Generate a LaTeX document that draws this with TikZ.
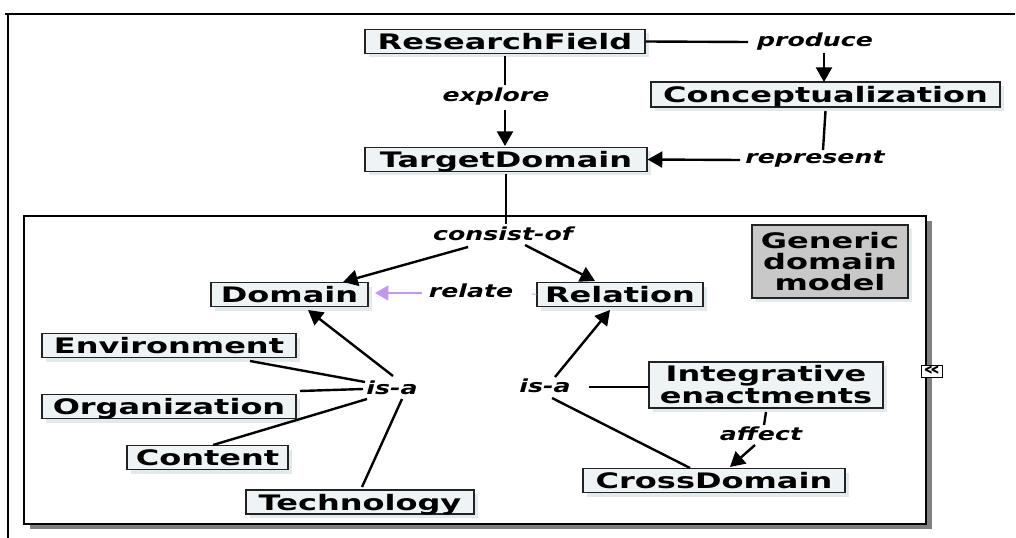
\documentclass[tikz,border=0pt]{standalone}
\usepackage{fontspec}
\usetikzlibrary{arrows.meta,shadows}
\newfontfamily\widesans{DejaVu Sans}[FakeStretch=1.5]
\newfontfamily\labelsans{DejaVu Sans}[FakeStretch=1.4]
\definecolor{boxfill}{RGB}{238,244,246}
\definecolor{boxshade}{RGB}{226,234,238}
\definecolor{boxline}{RGB}{35,35,35}
\definecolor{notefill}{RGB}{200,200,200}
\definecolor{relatecol}{RGB}{192,152,240}
\definecolor{frameshade}{RGB}{128,128,128}
\begin{document}
\begin{tikzpicture}[x=0.75pt,y=-0.75pt,
  conceptbox/.style={draw=boxline, line width=0.9pt, fill=boxfill,
    drop shadow={shadow xshift=3pt, shadow yshift=-3pt, fill=boxshade, opacity=1},
    inner xsep=2pt, inner ysep=0pt, minimum height=18pt,
    font=\widesans\bfseries\fontsize{16}{16.5}\selectfont},
  onelinebox/.style={conceptbox, text height=12.5pt, text depth=0pt},
  linklabel/.style={font=\labelsans\bfseries\itshape\fontsize{13.5}{14}\selectfont,
    inner sep=1pt, text height=10pt, text depth=2.8pt},
  conn/.style={line width=1.8pt, draw=black},
  arr/.style={conn, -{Triangle[length=11pt,width=12pt]}},
  relatearr/.style={line width=1.7pt, draw=relatecol, -{Triangle[length=10pt,width=11pt]}},
]
\useasboundingbox (0,0) rectangle (1016,538);

% outer page frame (top and left edges)
\draw[line width=1.1pt] (5,14) -- (1015,14);
\draw[line width=1.1pt] (8,14) -- (8,538);

% generic domain model frame with shadow
\fill[frameshade] (30,221) rectangle (932,529);
\draw[line width=1.1pt, fill=white] (24,216) rectangle (926,524);

% concept boxes
\node[onelinebox, minimum width=210pt]    (rf)      at (505,41.5)  {ResearchField};
\node[onelinebox, minimum width=261.75pt, minimum height=18.75pt] (concept) at (825.5,94.5) {Conceptualization};
\node[onelinebox, minimum width=211.5pt]  (td)      at (506,159.5) {TargetDomain};
\node[onelinebox, minimum width=117.75pt] (domain)  at (289.5,294.5) {Domain};
\node[onelinebox, minimum width=124.5pt]  (relation) at (620,294.5) {Relation};
\node[onelinebox, minimum width=190.5pt]  (env)     at (169,345.5) {Environment};
\node[onelinebox, minimum width=190.5pt]  (org)     at (169,406.5) {Organization};
\node[onelinebox, minimum width=120.75pt] (content) at (207.5,457.5) {Content};
\node[onelinebox, minimum width=171pt]    (tech)    at (360,502)   {Technology};
\node[conceptbox, minimum width=175.5pt, minimum height=34.5pt, align=center]
  (integr) at (766,385) {Integrative\\enactments};
\node[onelinebox, minimum width=196.5pt]  (cross)   at (714,480.5) {CrossDomain};
\node[conceptbox, fill=notefill, minimum width=117pt, minimum height=54.75pt, align=center,
  font=\widesans\bfseries\fontsize{16}{16}\selectfont]
  (generic) at (830,261.5) {Generic\\domain\\model};

% collapse marker on the frame edge
\node[draw=black, line width=0.7pt, fill=white, inner sep=0pt, minimum width=16pt,
  minimum height=9pt, font=\widesans\bfseries\fontsize{14}{14}\selectfont]
  (collapse) at (932,371) {«};

% link labels
\node[linklabel] (produce)   at (815,42)  {produce};
\node[linklabel] (explore)   at (496,97)  {explore};
\node[linklabel] (represent) at (815,159) {represent};
\node[linklabel] (consist)   at (503,236) {consist-of};
\node[linklabel] (relate)    at (471,293) {relate};
\node[linklabel] (isaL)      at (392,390) {is-a};
\node[linklabel] (isaR)      at (545,388) {is-a};
\node[linklabel] (affect)    at (761,436) {affect};

% top part
\draw[conn] (rf.east) -- ([shift={(-67,0)}]produce.center);
\draw[arr]  ([shift={(9,11)}]produce.center) -- ([shift={(-1.5,-12.5)}]concept.center);
\draw[conn] ([shift={(0,14.5)}]rf.center) -- ([shift={(9,-12)}]explore.center);
\draw[arr]  ([shift={(9,13)}]explore.center) -- ([shift={(-1,-13.5)}]td.center);
\draw[conn] ([shift={(0,16.5)}]concept.center) -- ([shift={(8,-9)}]represent.center);
\draw[arr]  ([shift={(-75,1)}]represent.center) -- (td.east);
\draw[conn] ([shift={(0,14.5)}]td.center) -- ([shift={(3,-12)}]consist.center);

% consist-of and relate
\draw[arr] ([shift={(-35,11)}]consist.center) -- ([shift={(53.5,-12.5)}]domain.center);
\draw[arr] ([shift={(22,9)}]consist.center) -- ([shift={(-25,-13.5)}]relation.center);
\draw[relatearr] ([shift={(-49,0)}]relate.center) -- ([shift={(85.5,-1.5)}]domain.center);
\coordinate (relstub) at (532,294);
\draw[line width=1pt, draw=relatecol!60] (relation.west) -- (relstub);

% is-a towards Domain
\draw[arr]  ([shift={(1,-14)}]isaL.center) -- ([shift={(18.5,15.5)}]domain.center);
\draw[conn] ([shift={(81,15.5)}]env.center) -- ([shift={(-27,-8)}]isaL.center);
\draw[conn] ([shift={(131,-15.5)}]org.center) -- ([shift={(-29,-1)}]isaL.center);
\draw[conn] ([shift={(5.5,-12.5)}]content.center) -- ([shift={(-25,9)}]isaL.center);
\draw[conn] ([shift={(2,-15)}]tech.center) -- ([shift={(10,9)}]isaL.center);

% is-a towards Relation
\draw[arr]  ([shift={(10,-11)}]isaR.center) -- ([shift={(-10,15.5)}]relation.center);
\draw[conn] ([shift={(44,-1)}]isaR.center) -- ([shift={(-117,2)}]integr.center);
\draw[conn] ([shift={(7,10)}]isaR.center) -- ([shift={(-24,-12.5)}]cross.center);

% affect
\draw[conn] ([shift={(0,27)}]integr.center) -- ([shift={(3,-11)}]affect.center);
\draw[arr]  ([shift={(-6,9)}]affect.center) -- ([shift={(16,-13.5)}]cross.center);
\end{tikzpicture}
\end{document}
